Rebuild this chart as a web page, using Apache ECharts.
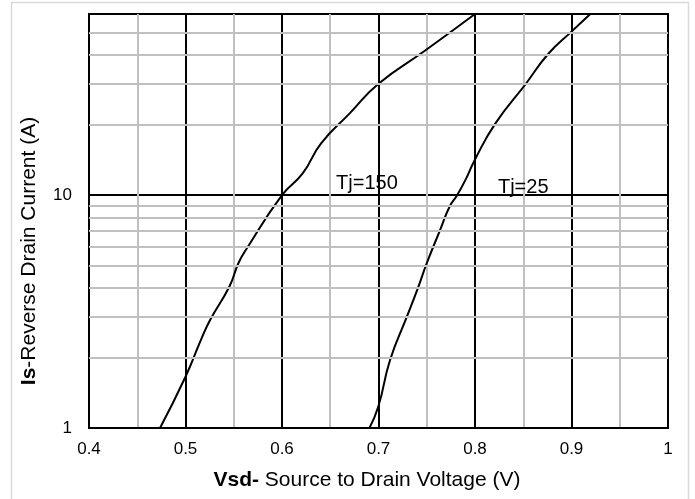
<!DOCTYPE html>
<html>
<head>
<meta charset="utf-8">
<script src="https://cdn.jsdelivr.net/npm/echarts@6/dist/echarts.min.js"></script>
<style>
  html, body { margin: 0; padding: 0; background: #fff; }
  #main { width: 695px; height: 499px; }
</style>
</head>
<body>
<div id="main"></div>
<script>
// data
var vsd150 = [0.4736, 0.5, 0.516, 0.5255, 0.5455, 0.5548, 0.5635, 0.6, 0.6214, 0.6405, 0.6699, 0.7, 0.7484, 0.8];
var is150  = [1, 1.66, 2.39, 2.91, 4.05, 5.1, 5.9, 10, 12.4, 16.7, 22.4, 30.1, 41.8, 60];
var vsd25 = [0.6906, 0.6999, 0.712, 0.7293, 0.7414, 0.75, 0.7638, 0.7735, 0.7815, 0.79, 0.7995, 0.821, 0.8527, 0.876, 0.9, 0.9195];
var is25  = [1, 1.24, 1.96, 3, 4.05, 5.1, 7.08, 8.9, 10, 11.6, 14.1, 20.3, 30.1, 40.5, 50.4, 60];
var minorY = [2, 3, 4, 5, 6, 7, 8, 9, 20, 30, 40, 50];
var seriesNames = ['Tj=150', 'Tj=25'];
// where the curve labels sit (in data coords)
var labelAt150 = [0.688, 11.2];
var labelAt25 = [0.850, 10.8];

function pairs(xs, ys) {
  var out = [];
  for (var i = 0; i < xs.length; i++) out.push([xs[i], ys[i]]);
  return out;
}

var font = 'Liberation Sans, Arial, sans-serif';

var myChart = echarts.init(document.getElementById('main'));
var option = {
  animation: false,
  textStyle: { fontFamily: font },
  grid: {
    left: 89, right: 27, top: 14, bottom: 71,
    show: true, borderColor: '#000', borderWidth: 2
  },
  xAxis: {
    type: 'value', min: 0.4, max: 1, interval: 0.1,
    axisLine: { lineStyle: { color: '#000', width: 2 } },
    axisTick: { show: false },
    axisLabel: { color: '#000', fontSize: 17, margin: 13, fontFamily: font },
    splitLine: { lineStyle: { color: '#000', width: 2 } },
    minorTick: { show: false, splitNumber: 2 },
    minorSplitLine: { show: true, lineStyle: { color: '#c0c0c0', width: 2 } }
  },
  yAxis: {
    type: 'log', logBase: 10, min: 1, max: 60,
    axisLine: { lineStyle: { color: '#000', width: 2 } },
    axisTick: { show: false },
    axisLabel: { color: '#000', fontSize: 17, margin: 17, fontFamily: font, showMaxLabel: false },
    splitLine: { lineStyle: { color: '#000', width: 2 } }
  },
  graphic: [
    {
      type: 'rect', z: -10, silent: true,
      shape: { x: 11.5, y: 2.5, width: 677, height: 510 },
      style: { fill: null, stroke: '#d9d9d9', lineWidth: 1.5 }
    },
    {
      type: 'text', x: 29, y: 251, rotation: Math.PI / 2,
      style: {
        text: '{b|Is}-Reverse Drain Current (A)',
        fontSize: 21, fontFamily: font, fill: '#000',
        align: 'center', verticalAlign: 'middle',
        rich: { b: { fontWeight: 'bold', fontSize: 21, fontFamily: font } }
      }
    },
    {
      type: 'text', x: 367, y: 480,
      style: {
        text: '{b|Vsd-} Source to Drain Voltage (V)',
        fontSize: 21, fontFamily: font, fill: '#000',
        align: 'center', verticalAlign: 'middle',
        rich: { b: { fontWeight: 'bold', fontSize: 21, fontFamily: font } }
      }
    }
  ],
  series: [
    {
      name: 'minor grid', type: 'line', data: [], z: -1, silent: true,
      markLine: {
        silent: true, symbol: 'none', label: { show: false },
        lineStyle: { color: '#c0c0c0', width: 2, type: 'solid' },
        data: minorY.map(function (v) { return { yAxis: v }; })
      }
    },
    {
      name: seriesNames[0], type: 'line', smooth: 0.5, symbol: 'none',
      lineStyle: { color: '#000', width: 2 },
      data: pairs(vsd150, is150),
      markPoint: {
        symbol: 'circle', symbolSize: 0,
        label: { show: true, position: 'inside', color: '#000', fontSize: 20, fontFamily: font, formatter: seriesNames[0] },
        data: [{ coord: labelAt150 }]
      }
    },
    {
      name: seriesNames[1], type: 'line', smooth: 0.5, symbol: 'none',
      lineStyle: { color: '#000', width: 2 },
      data: pairs(vsd25, is25),
      markPoint: {
        symbol: 'circle', symbolSize: 0,
        label: { show: true, position: 'inside', color: '#000', fontSize: 20, fontFamily: font, formatter: seriesNames[1] },
        data: [{ coord: labelAt25 }]
      }
    }
  ]
};
myChart.setOption(option);
</script>
</body>
</html>
